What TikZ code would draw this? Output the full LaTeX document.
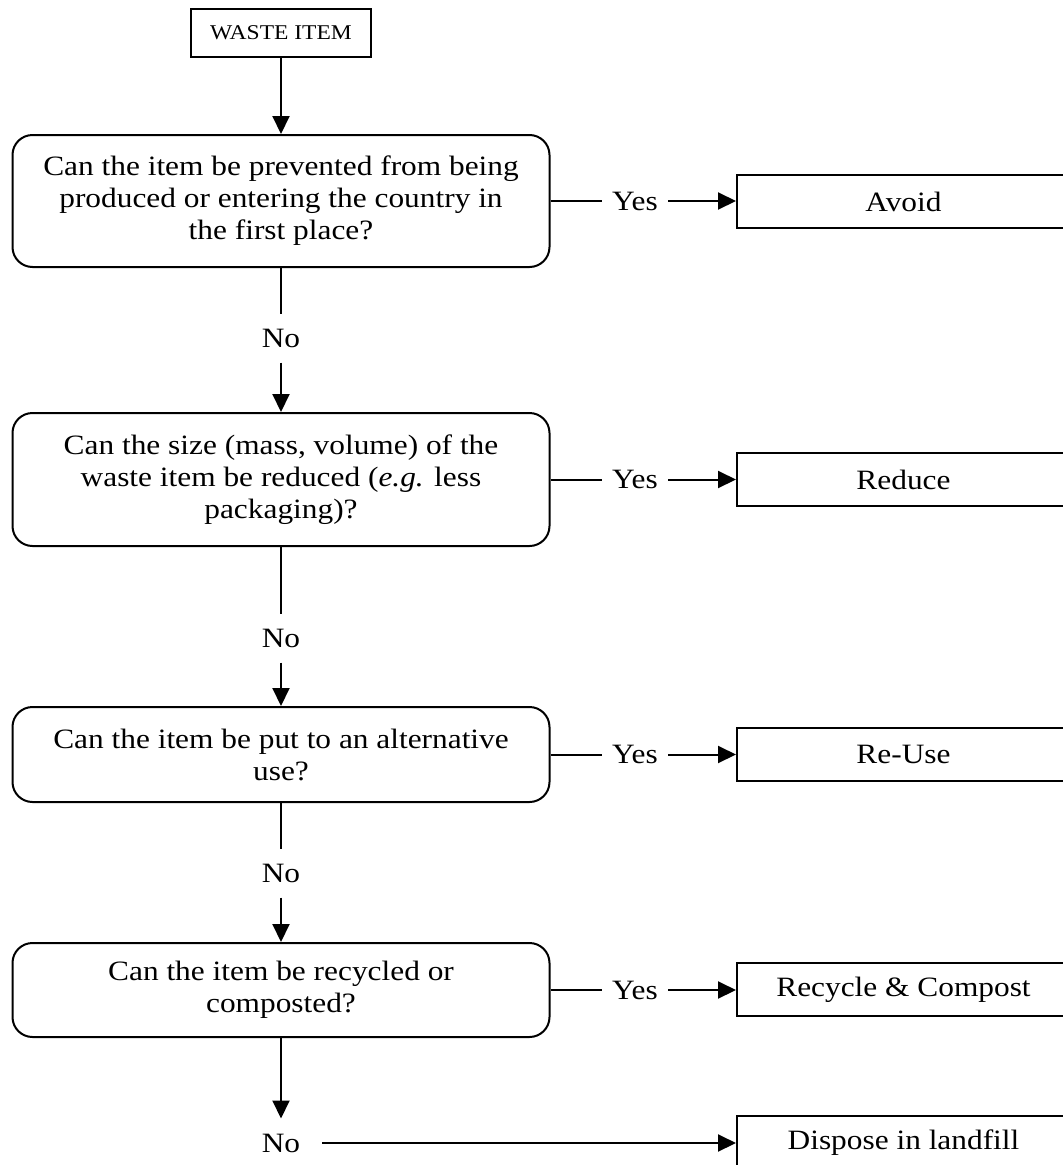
\documentclass[tikz,border=0pt]{standalone}
\usepackage{fontspec}
\setmainfont{Liberation Serif}[FakeStretch=1.12]
\usetikzlibrary{arrows.meta}
\tikzset{
  base/.style={line width=2pt},
  qbox/.style={draw, base, rounded corners=20pt, minimum width=537pt, align=center, font=\fontsize{28}{32}\selectfont, inner sep=0pt},
  abox/.style={draw, base, minimum width=333pt, minimum height=53pt, font=\fontsize{28}{32}\selectfont, inner sep=0pt},
  yeslabel/.style={font=\fontsize{28}{32}\selectfont, inner xsep=10pt, inner ysep=0pt},
  nolabel/.style={font=\fontsize{28}{32}\selectfont, inner xsep=0pt, inner ysep=15pt},
  conn/.style={base},
  arr/.style={base, -{Triangle[length=18pt,width=17pt]}}
}
\begin{document}
\begin{tikzpicture}[x=1pt,y=-1pt]
\useasboundingbox (0,0) rectangle (1063,1165);
\clip (0,0) rectangle (1063,1165);
\fill[white] (0,0) rectangle (1063,1165);

\node[draw, base, minimum width=180pt, minimum height=48pt, inner sep=0pt, font=\fontsize{21}{24}\selectfont] (waste) at (281,33) {WASTE ITEM};

\node[qbox, minimum height=132pt] (q1) at (281,201) {\raisebox{-2pt}{\parbox{520pt}{\centering Can the item be prevented from being\\produced or entering the country in\\the first place?}}};
\node[qbox, minimum height=133pt] (q2) at (281,479.5) {\raisebox{-2pt}{\parbox{520pt}{\centering Can the size (mass, volume) of the\\waste item be reduced (\textit{e.g.} less\\packaging)?}}};
\node[qbox, minimum height=95pt] (q3) at (281,754.5) {\raisebox{-2pt}{\parbox{520pt}{\centering Can the item be put to an alternative\\use?}}};
\node[qbox, minimum height=94pt] (q4) at (281,990) {\raisebox{-2pt}{\parbox{520pt}{\centering Can the item be recycled or\\composted?}}};

\node[abox] (avoid) at (903.5,201.5) {Avoid};
\node[abox] (reduce) at (903.5,479.5) {Reduce};
\node[abox] (reuse) at (903.5,754.5) {Re-Use};
\node[abox] (recycle) at (903.5,989.5) {Recycle \& Compost};
\node[abox] (dispose) at (903.5,1142.5) {Dispose in landfill};

\node[yeslabel] (y1) at (635,201) {Yes};
\node[yeslabel] (y2) at (635,479.5) {Yes};
\node[yeslabel] (y3) at (635,754.5) {Yes};
\node[yeslabel] (y4) at (635,990) {Yes};

\node[nolabel] (n1) at (281,338) {No};
\node[nolabel] (n2) at (281,638) {No};
\node[nolabel] (n3) at (281,873) {No};
\node[nolabel, inner xsep=22pt] (n4) at (281,1143) {No};

\draw[arr] (waste.south) -- (q1.north);

\draw[conn] (q1.east) -- (y1.west);
\draw[arr] (y1.east) -- (avoid.west |- y1.east);
\draw[conn] (q2.east) -- (y2.west);
\draw[arr] (y2.east) -- (reduce.west |- y2.east);
\draw[conn] (q3.east) -- (y3.west);
\draw[arr] (y3.east) -- (reuse.west |- y3.east);
\draw[conn] (q4.east) -- (y4.west);
\draw[arr] (y4.east) -- (recycle.west |- y4.east);

\draw[conn] (q1.south) -- (n1.north);
\draw[arr] (n1.south) -- (q2.north);
\draw[conn] (q2.south) -- (n2.north);
\draw[arr] (n2.south) -- (q3.north);
\draw[conn] (q3.south) -- (n3.north);
\draw[arr] (n3.south) -- (q4.north);
\draw[arr] (q4.south) -- (n4.north);
\draw[arr] (n4.east) -- (n4.east -| dispose.west);
\end{tikzpicture}
\end{document}
